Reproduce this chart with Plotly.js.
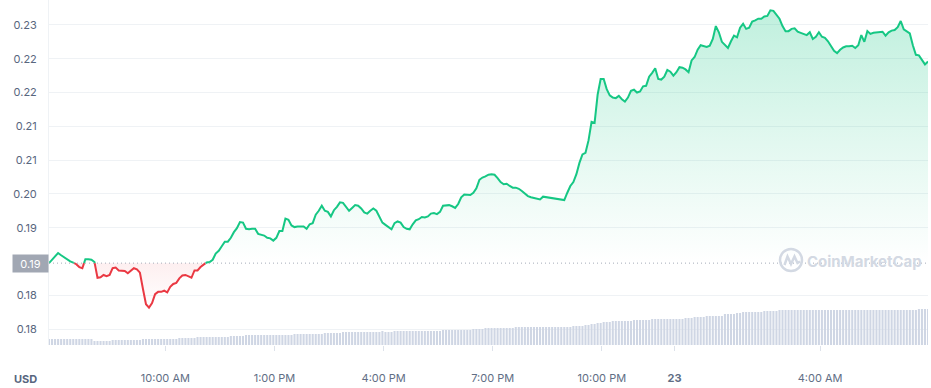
<!DOCTYPE html>
<html>
<head>
<meta charset="utf-8">
<script src="https://cdn.plot.ly/plotly-3.0.1.min.js"></script>
<style>
html,body{margin:0;padding:0;background:#fff;}
#chart{width:931px;height:388px;}
</style>
</head>
<body>
<div id="chart"></div>
<script>
// Price every 5 minutes (USD), starting 22 Mar 06:48
const prices = [
0.1877,0.1883,0.1889,0.1895,0.1891,0.1887,0.1883,0.1880,0.1878,0.1875,
0.1870,0.1868,0.1884,0.1884,0.1883,0.1879,0.1851,0.1852,0.1856,0.1854,
0.1856,0.1868,0.1869,0.1864,0.1864,0.1863,0.1859,0.1864,0.1868,0.1866,
0.1860,0.1831,0.1804,0.1798,0.1806,0.1822,0.1826,0.1826,0.1828,0.1825,
0.1835,0.1840,0.1842,0.1850,0.1855,0.1856,0.1853,0.1851,0.1864,0.1864,
0.1870,0.1875,0.1878,0.1879,0.1883,0.1894,0.1899,0.1907,0.1915,0.1915,
0.1922,0.1932,0.1939,0.1950,0.1949,0.1938,0.1937,0.1938,0.1938,0.1929,
0.1927,0.1926,0.1922,0.1921,0.1917,0.1922,0.1934,0.1934,0.1956,0.1954,
0.1944,0.1941,0.1942,0.1942,0.1942,0.1938,0.1946,0.1948,0.1963,0.1970,
0.1979,0.1970,0.1968,0.1960,0.1971,0.1977,0.1985,0.1984,0.1978,0.1970,
0.1975,0.1980,0.1979,0.1974,0.1967,0.1965,0.1970,0.1974,0.1970,0.1958,
0.1949,0.1945,0.1941,0.1937,0.1948,0.1951,0.1949,0.1941,0.1938,0.1937,
0.1946,0.1953,0.1955,0.1959,0.1958,0.1960,0.1965,0.1966,0.1964,0.1968,
0.1979,0.1979,0.1980,0.1978,0.1975,0.1982,0.1994,0.1999,0.1998,0.1998,
0.2002,0.2010,0.2025,0.2029,0.2031,0.2034,0.2035,0.2034,0.2028,0.2021,
0.2017,0.2018,0.2014,0.2011,0.2011,0.2009,0.2005,0.2001,0.1996,0.1994,
0.1993,0.1992,0.1990,0.1995,0.1994,0.1994,0.1993,0.1992,0.1990,0.1989,
0.1989,0.2002,0.2014,0.2021,0.2035,0.2055,0.2070,0.2073,0.2095,0.2128,
0.2126,0.2176,0.2204,0.2204,0.2186,0.2175,0.2171,0.2170,0.2174,0.2168,
0.2164,0.2171,0.2183,0.2185,0.2180,0.2182,0.2191,0.2192,0.2208,0.2215,
0.2223,0.2204,0.2203,0.2208,0.2220,0.2217,0.2210,0.2216,0.2225,0.2224,
0.2221,0.2216,0.2237,0.2243,0.2256,0.2264,0.2263,0.2261,0.2263,0.2275,
0.2298,0.2287,0.2270,0.2264,0.2259,0.2271,0.2281,0.2278,0.2295,0.2302,
0.2293,0.2295,0.2306,0.2308,0.2311,0.2311,0.2315,0.2316,0.2326,0.2325,
0.2319,0.2311,0.2298,0.2289,0.2289,0.2293,0.2294,0.2288,0.2286,0.2284,
0.2282,0.2287,0.2275,0.2279,0.2287,0.2279,0.2277,0.2271,0.2262,0.2254,
0.2250,0.2256,0.2260,0.2262,0.2262,0.2263,0.2259,0.2264,0.2282,0.2270,
0.2289,0.2284,0.2286,0.2287,0.2287,0.2288,0.2281,0.2287,0.2290,0.2291,
0.2296,0.2307,0.2292,0.2289,0.2285,0.2264,0.2247,0.2246,0.2237,0.2230,
0.2235
];

// Volume bars, same 5-minute steps (relative units)
const volumes = [
6,6,6,6,6,6,6,6,6,6,6,6,6,6,6,
4,4,4,4,4,4,
5,5,5,5,5,5,5,5,5,5,
6,6,6,6,6,6,6,6,6,6,6,6,
7,7,7,7,7,7,
8,8,8,8,8,8,8,8,8,8,8,
9,9,9,9,9,
10,10,10,10,10,10,10,10,10,10,10,10,10,10,10,10,
11,11,11,11,11,11,11,11,11,11,
12,12,12,12,12,12,
13,13,13,13,13,13,13,13,13,13,13,13,13,
14,
13,13,13,
14,14,14,14,14,14,14,14,14,14,14,14,14,14,14,14,
15,15,15,15,15,15,15,15,15,15,
16,16,16,16,
17,17,17,17,17,17,17,17,17,17,
18,18,18,18,18,18,18,18,18,18,18,18,18,18,18,18,18,18,18,
19,19,19,19,
20,20,
21,21,
22,22,
23,23,23,
24,24,24,24,24,24,24,
25,25,25,25,25,25,
26,26,26,26,26,26,26,26,26,26,26,
27,27,27,
28,28,28,28,
29,29,29,29,29,29,
31,31,31,31,
32,32,
33,33,33,33,33,33,33,
34,34,34,34,34,
35,35,35,35,35,35,35,35,35,35,35,35,35,35,35,35,35,35,35,35,35,35,35,
35,35,35,35,35,35,35,35,35,35,35,35,35,35,35,35,35,35,35,35,35,35,35,
36,36,36,36
];

const xTickVals = ['2023-03-22 10:00','2023-03-22 13:00','2023-03-22 16:00','2023-03-22 19:00','2023-03-22 22:00','2023-03-23 00:00','2023-03-23 04:00'];
const xTickText = ['10:00 AM','1:00 PM','4:00 PM','7:00 PM','10:00 PM','<b>23</b>','4:00 AM'];
const yTickVals = [0.176,0.182,0.194,0.200,0.206,0.212,0.218,0.224,0.230];

const GREEN = '#16c784', RED = '#ea3943';
const t0 = Date.UTC(2023, 2, 22, 6, 48);
const step = 5 * 60 * 1000;
const times = prices.map((_, i) => t0 + i * step);
const vtimes = volumes.map((_, i) => t0 + i * step);
const base = prices[0];

// insert baseline crossing points
const X = [], Y = [];
for (let i = 0; i < prices.length; i++) {
  if (i > 0 && (prices[i-1] - base) * (prices[i] - base) < 0) {
    const f = (base - prices[i-1]) / (prices[i] - prices[i-1]);
    X.push(times[i-1] + f * step); Y.push(base);
  }
  X.push(times[i]); Y.push(prices[i]);
}
const baseY = X.map(() => base);
const eps = 1e-9;

const traces = [
  {x: vtimes, y: volumes, type: 'bar', yaxis: 'y2', marker: {color: '#cfd6e4'}, hoverinfo: 'skip'},
  {x: X, y: baseY, mode: 'lines', line: {width: 0}, hoverinfo: 'skip'},
  {x: X, y: Y.map(v => Math.max(v, base)), mode: 'none', fill: 'tonexty',
   fillgradient: {type: 'vertical', colorscale: [[0, 'rgba(22,199,132,0)'], [0.5, 'rgba(22,199,132,0.13)'], [1, 'rgba(22,199,132,0.27)']]}, hoverinfo: 'skip'},
  {x: X, y: baseY, mode: 'lines', line: {width: 0}, hoverinfo: 'skip'},
  {x: X, y: Y.map(v => Math.min(v, base)), mode: 'none', fill: 'tonexty',
   fillgradient: {type: 'vertical', colorscale: [[0, 'rgba(234,57,67,0)'], [1, 'rgba(234,57,67,0.08)']]}, hoverinfo: 'skip'},
  {x: X, y: Y.map(v => v <= base + eps ? v : null), mode: 'lines', line: {color: RED, width: 2}, connectgaps: false, hoverinfo: 'skip'},
  {x: X, y: Y.map(v => v >= base - eps ? v : null), mode: 'lines', line: {color: GREEN, width: 2}, connectgaps: false, hoverinfo: 'skip'}
];

const L = 49, W = 879, H = 345;
const px = p => (p - L) / W;
const py = p => (H - p) / H;

const logoPts = [[784.5,265],[787.5,256.5],[791,264],[794.5,256.5],[797.5,263],[800,261.5]];
const logoPath = 'M' + logoPts.map(p => px(p[0]).toFixed(5) + ',' + py(p[1]).toFixed(5)).join(' L');

const layout = {
  width: 931, height: 388,
  margin: {l: L, r: 3, t: 0, b: 43},
  paper_bgcolor: '#ffffff', plot_bgcolor: '#ffffff',
  showlegend: false,
  bargap: 0.32,
  font: {family: 'Inter, "Noto Sans", sans-serif', color: '#58667e', size: 11},
  xaxis: {
    type: 'date',
    range: [t0, t0 + (prices.length - 1) * step],
    tickmode: 'array', tickvals: xTickVals, ticktext: xTickText,
    showgrid: false, zeroline: false, showline: false,
    ticks: 'outside', ticklen: 5, tickcolor: '#dde2ea', tickwidth: 1,
    ticklabelstandoff: 18,
    tickfont: {size: 11, color: '#616e85'},
    fixedrange: true
  },
  yaxis: {
    range: [0.17316, 0.23443],
    tickmode: 'array', tickvals: yTickVals, tickformat: '.2f',
    showgrid: true, gridcolor: '#eff2f5', gridwidth: 1,
    zeroline: false, showline: true, linecolor: '#eff2f5', linewidth: 1,
    ticks: '', ticklabelstandoff: 9,
    tickfont: {size: 11, color: '#58667e'},
    fixedrange: true
  },
  yaxis2: {overlaying: 'y', range: [0, 345], visible: false, fixedrange: true},
  shapes: [
    {type: 'line', xref: 'paper', yref: 'y', x0: 0, x1: 1, y0: base, y1: base,
     line: {color: '#a4abb8', width: 1, dash: '1px,3px'}},
    {type: 'circle', xref: 'paper', yref: 'paper', x0: px(780), x1: px(802), y0: py(271), y1: py(249),
     line: {color: '#d3d9e3', width: 2.5}},
    {type: 'path', xref: 'paper', yref: 'paper', path: logoPath, line: {color: '#d3d9e3', width: 2.5}}
  ],
  annotations: [
    {xref: 'paper', yref: 'y', x: 0, y: base, xanchor: 'right', yanchor: 'middle',
     text: base.toFixed(2), showarrow: false, bgcolor: '#a1a7b3', width: 33, height: 15, borderpad: 1,
     font: {size: 11, color: '#ffffff'}},
    {xref: 'paper', yref: 'paper', x: px(25), y: py(379), xanchor: 'center', yanchor: 'middle',
     text: '<b>USD</b>', showarrow: false, font: {size: 11, color: '#58667e'}},
    {xref: 'paper', yref: 'paper', x: px(864), y: py(261), xanchor: 'center', yanchor: 'middle',
     text: '<b>CoinMarketCap</b>', showarrow: false, font: {size: 15, color: '#d3d9e3'}}
  ]
};

Plotly.newPlot('chart', traces, layout, {staticPlot: true, displayModeBar: false});
</script>
</body>
</html>
